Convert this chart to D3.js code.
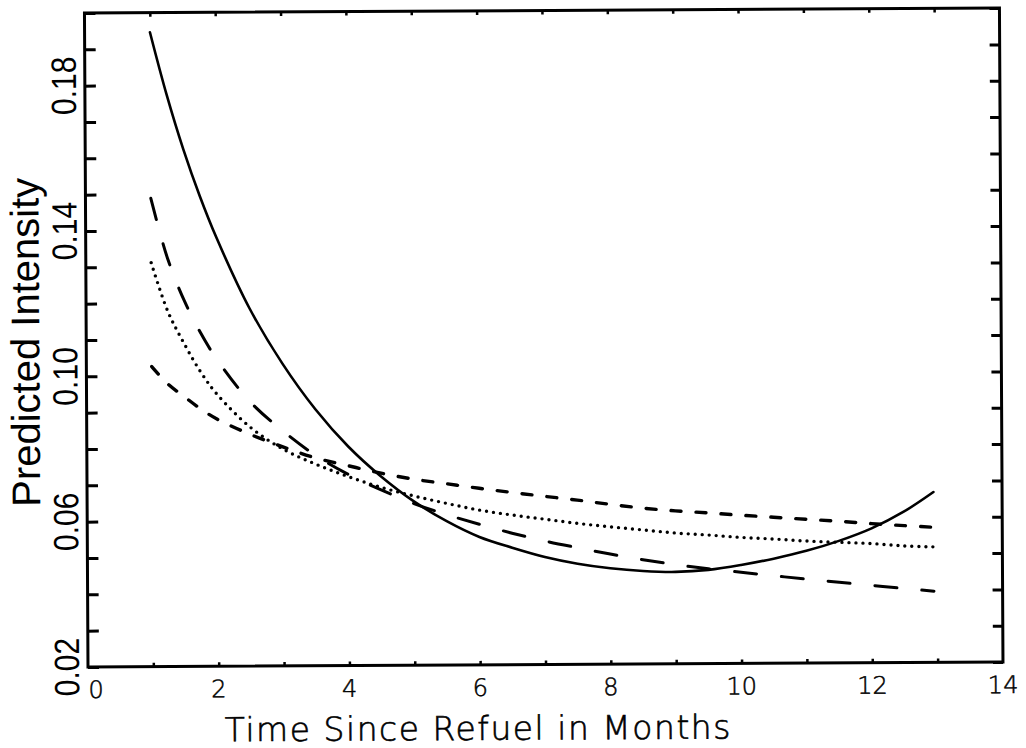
<!DOCTYPE html>
<html>
<head>
<meta charset="utf-8">
<script src="https://cdn.jsdelivr.net/npm/d3@7"></script>
<style>
  html, body { margin: 0; padding: 0; background: #fff; }
  svg { display: block; }
</style>
</head>
<body>
<svg id="chart" width="1026" height="748"></svg>
<script>
// Months since refuel at which each fitted curve is evaluated
const months = [1, 1.25, 1.5, 1.75, 2, 2.5, 3, 3.5, 4, 4.5, 5, 5.5, 6, 6.5, 7,
                7.5, 8, 8.5, 9, 9.5, 10, 10.5, 11, 11.5, 12, 12.5, 12.95];

// Predicted intensity, one array per model
const solidModel = [0.1946, 0.1774, 0.1624, 0.1494, 0.1380, 0.1185, 0.1032, 0.0906,
                    0.0803, 0.0720, 0.0651, 0.0596, 0.0552, 0.0522, 0.0496, 0.0477,
                    0.0464, 0.0456, 0.0453, 0.0458, 0.0471, 0.0488, 0.0509, 0.0536,
                    0.0570, 0.0616, 0.0669];
const longDashModel = [0.1489, 0.1324, 0.1208, 0.1118, 0.1044, 0.0928, 0.0847, 0.0779,
                       0.0726, 0.0683, 0.0645, 0.0614, 0.0587, 0.0562, 0.0540, 0.0521,
                       0.0503, 0.0487, 0.0473, 0.0461, 0.0451, 0.0441, 0.0431, 0.0422,
                       0.0413, 0.0404, 0.0396];
const shortDashModel = [0.1026, 0.0977, 0.0942, 0.0908, 0.0880, 0.0838, 0.0803, 0.0772,
                        0.0750, 0.0729, 0.0712, 0.0699, 0.0686, 0.0674, 0.0663, 0.0652,
                        0.0640, 0.0629, 0.0621, 0.0615, 0.0608, 0.0602, 0.0596, 0.0590,
                        0.0583, 0.0577, 0.0572];
const dottedModel = [0.1312, 0.1178, 0.1088, 0.1010, 0.0948, 0.0858, 0.0797, 0.0755,
                     0.0720, 0.0690, 0.0666, 0.0645, 0.0626, 0.0612, 0.0600, 0.0588,
                     0.0578, 0.0569, 0.0560, 0.0554, 0.0547, 0.0542, 0.0536, 0.0532,
                     0.0528, 0.0521, 0.0518];

// Axis ticks and labels
const xMinorTicks = d3.range(1, 14, 1);
const xLabels = [0, 2, 4, 6, 8, 10, 12, 14];
const yMinorTicks = d3.range(2, 21, 1).map(v => v / 100);
const yLabels = [0.02, 0.06, 0.10, 0.14, 0.18];

const xTitle = "Time Since Refuel in Months";
const yTitle = "Predicted Intensity";

// Plot geometry
const plotLeft = 88, plotRight = 1003, plotTop = 13, plotBottom = 667;

const x = d3.scaleLinear().domain([0, 14]).range([plotLeft, plotRight]);
const y = d3.scaleLinear().domain([0.02, 0.20]).range([plotBottom, plotTop]);

const svg = d3.select("#chart");
// the whole figure sits at a slight tilt
const g = svg.append("g").attr("transform", `rotate(-0.31 ${plotLeft} ${plotBottom})`);

// Tick marks (inward) on all four sides
function styleAxis(sel, w) {
  sel.select(".domain").remove();
  sel.selectAll(".tick line").attr("stroke", "#000").attr("stroke-width", w);
  sel.selectAll(".tick text").remove();
}
g.append("g").attr("transform", `translate(${plotLeft},0)`)
  .call(d3.axisLeft(y).tickValues(yMinorTicks).tickSize(-11))
  .call(s => styleAxis(s, 3));
g.append("g").attr("transform", `translate(${plotRight},0)`)
  .call(d3.axisRight(y).tickValues(yMinorTicks).tickSize(-10))
  .call(s => styleAxis(s, 3));
g.append("g").attr("transform", `translate(0,${plotTop})`)
  .call(d3.axisTop(x).tickValues(xMinorTicks).tickSize(-4))
  .call(s => styleAxis(s, 2.5));
g.append("g").attr("transform", `translate(0,${plotBottom})`)
  .call(d3.axisBottom(x).tickValues(xMinorTicks).tickSize(-4))
  .call(s => styleAxis(s, 2.5));

// Frame
g.append("rect")
  .attr("x", plotLeft).attr("y", plotTop)
  .attr("width", plotRight - plotLeft).attr("height", plotBottom - plotTop)
  .attr("fill", "none").attr("stroke", "#000").attr("stroke-width", 3);

// X tick labels
g.selectAll(".xlab").data(xLabels).join("text")
  .attr("class", "xlab")
  .attr("x", d => x(d) + (d === 0 ? 8 : 0))
  .attr("y", 698)
  .attr("text-anchor", "middle")
  .attr("font-family", "DejaVu Sans")
  .attr("font-weight", 300)
  .attr("font-size", 24)
  .attr("stroke", "#000").attr("stroke-width", 0.5)
  .text(d => d);

// Y tick labels (rotated)
g.selectAll(".ylab").data(yLabels).join("text")
  .attr("class", "ylab")
  .attr("transform", d => `translate(79,${y(d)}) rotate(-90) scale(0.86,1)`)
  .attr("text-anchor", "middle")
  .attr("font-family", "Liberation Sans")
  .attr("font-size", 35)
  .text(d => d3.format(".2f")(d));

// Axis titles
g.append("text")
  .attr("x", 478).attr("y", 742)
  .attr("text-anchor", "middle")
  .attr("font-family", "DejaVu Sans")
  .attr("font-weight", 300)
  .attr("font-size", 33)
  .attr("letter-spacing", 1.5)
  .attr("stroke", "#000").attr("stroke-width", 0.6)
  .text(xTitle);

g.append("text")
  .attr("transform", "translate(41,342) rotate(-90)")
  .attr("text-anchor", "middle")
  .attr("font-family", "Liberation Sans")
  .attr("font-size", 40)
  .text(yTitle);

// Fitted curves
const line = d3.line().x(d => x(d[0])).y(d => y(d[1])).curve(d3.curveCatmullRom.alpha(0.5));
const series = [
  { values: solidModel,     width: 2.6, dash: null },
  { values: longDashModel,  width: 3.0, dash: "22,25" },
  { values: shortDashModel, width: 3.4, dash: "10,15" },
  { values: dottedModel,    width: 3.4, dash: "0,7" }
];
g.selectAll(".curve").data(series).join("path")
  .attr("class", "curve")
  .attr("d", s => line(months.map((m, i) => [m, s.values[i]])))
  .attr("fill", "none")
  .attr("stroke", "#000")
  .attr("stroke-width", s => s.width)
  .attr("stroke-linecap", "round")
  .attr("stroke-dasharray", s => s.dash);
</script>
</body>
</html>
